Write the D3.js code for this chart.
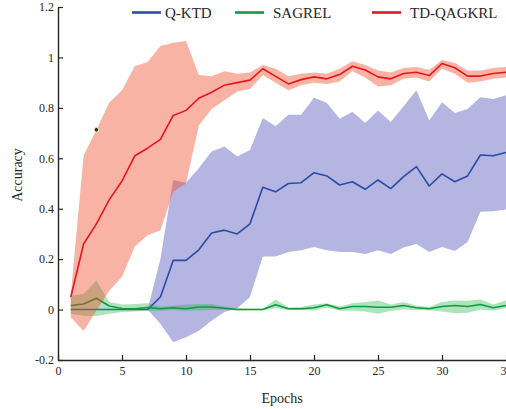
<!DOCTYPE html>
<html>
<head>
<meta charset="utf-8">
<script src="https://cdn.jsdelivr.net/npm/d3@7"></script>
<style>
  html, body { margin: 0; padding: 0; background: #fff; overflow: hidden; }
  svg { display: block; }
  text { font-family: "Liberation Serif", "Times New Roman", serif; fill: #262626; }
</style>
</head>
<body>
<svg id="chart" width="506" height="409"></svg>
<script>
// ---- data ----
const epochs = d3.range(1, 36);
const seriesNames = ["Q-KTD", "SAGREL", "TD-QAGKRL"];
const xTicks = [0, 5, 10, 15, 20, 25, 30, 35];
const yTicks = [-0.2, 0, 0.2, 0.4, 0.6, 0.8, 1.0, 1.2];

const qktdMean  = [0,0,0,0,0,0,0,0.05,0.195,0.195,0.237,0.304,0.315,0.30,0.34,0.485,0.467,0.50,0.503,0.543,0.53,0.494,0.507,0.477,0.514,0.48,0.527,0.567,0.49,0.538,0.507,0.53,0.613,0.61,0.623];
const qktdUpper = [0,0,0,0,0,0,0,0.20,0.514,0.503,0.56,0.627,0.647,0.607,0.633,0.76,0.727,0.773,0.773,0.84,0.82,0.757,0.785,0.74,0.79,0.744,0.806,0.87,0.75,0.822,0.78,0.795,0.842,0.835,0.85];
const qktdLower = [0,0,0,0,0,0,0,-0.056,-0.13,-0.11,-0.084,-0.044,-0.01,0.005,0.05,0.21,0.21,0.228,0.235,0.248,0.235,0.228,0.228,0.22,0.235,0.22,0.246,0.26,0.228,0.248,0.232,0.268,0.388,0.39,0.397];

const sagrelMean  = [0.016,0.022,0.045,0.014,0.004,0.003,0.008,0.003,0.007,0.003,0.01,0.01,0.005,0.0,0.0,0.0,0.019,0.003,0.003,0.007,0.019,0.003,0.012,0.012,0.009,0.009,0.016,0.007,0.003,0.012,0.016,0.012,0.02,0.007,0.016];
const sagrelUpper = [0.056,0.062,0.115,0.03,0.02,0.022,0.025,0.012,0.015,0.02,0.022,0.022,0.012,0.005,0.003,0.003,0.04,0.008,0.01,0.02,0.025,0.012,0.025,0.03,0.036,0.02,0.03,0.015,0.01,0.03,0.036,0.035,0.04,0.02,0.036];
const sagrelLower = [-0.017,-0.025,-0.025,-0.017,-0.01,-0.008,-0.005,-0.005,-0.002,-0.005,-0.004,-0.002,-0.001,-0.004,-0.003,-0.003,0.005,-0.002,-0.002,-0.004,0.008,-0.004,-0.005,-0.008,-0.017,-0.005,0.0,-0.002,-0.003,-0.008,-0.015,-0.013,0.0,-0.004,0.005];

const tdMean  = [0.05,0.26,0.34,0.435,0.51,0.61,0.64,0.675,0.77,0.79,0.838,0.862,0.89,0.90,0.91,0.955,0.925,0.895,0.912,0.923,0.915,0.932,0.965,0.95,0.923,0.915,0.936,0.941,0.928,0.976,0.959,0.926,0.926,0.936,0.941];
const tdUpper = [0.06,0.61,0.713,0.82,0.87,0.965,0.982,1.045,1.058,1.065,0.93,0.925,0.945,0.935,0.94,0.97,0.955,0.925,0.935,0.94,0.935,0.955,0.985,0.97,0.948,0.94,0.958,0.962,0.95,0.99,0.978,0.948,0.948,0.958,0.962];
const tdLower = [-0.03,-0.085,-0.005,0.075,0.13,0.25,0.295,0.315,0.467,0.50,0.73,0.795,0.83,0.865,0.875,0.93,0.90,0.87,0.89,0.90,0.895,0.905,0.945,0.92,0.885,0.89,0.915,0.92,0.905,0.955,0.935,0.9,0.905,0.915,0.92];

const dataTip = [[3, 0.713]];

// ---- layout ----
const svg = d3.select("#chart");
const x = d3.scaleLinear().domain([0, 35]).range([58, 506]);
const y = d3.scaleLinear().domain([-0.2, 1.2]).range([360, 7]);

const series = [
  { name: seriesNames[0], mean: qktdMean,   up: qktdUpper,   lo: qktdLower,   line: "#2c4ba6", fill: "rgb(60,60,180)",  alpha: 0.38 },
  { name: seriesNames[1], mean: sagrelMean, up: sagrelUpper, lo: sagrelLower, line: "#0f9a43", fill: "rgb(30,180,70)",  alpha: 0.36 },
  { name: seriesNames[2], mean: tdMean,     up: tdUpper,     lo: tdLower,     line: "#e8161c", fill: "rgb(240,75,40)",  alpha: 0.42 }
];

const area = d3.area().x((d) => x(d.e)).y0((d) => y(d.lo)).y1((d) => y(d.up));
const line = d3.line().x((d) => x(d.e)).y((d) => y(d.v));

series.forEach((s) => {
  const bandData = epochs.map((e, i) => ({ e, up: s.up[i], lo: s.lo[i] }));
  const lineData = epochs.map((e, i) => ({ e, v: s.mean[i] }));
  svg.append("path").datum(bandData).attr("d", area)
    .attr("fill", s.fill).attr("fill-opacity", s.alpha).attr("stroke", "none");
  svg.append("path").datum(lineData).attr("d", line)
    .attr("fill", "none").attr("stroke", s.line).attr("stroke-width", 1.6)
    .attr("stroke-linejoin", "round");
});

// data tip marker
svg.selectAll("circle.tip").data(dataTip).enter().append("circle")
  .attr("class", "tip")
  .attr("cx", (d) => x(d[0])).attr("cy", (d) => y(d[1])).attr("r", 2.3)
  .attr("fill", "#262626").attr("stroke", "#f3f0c8").attr("stroke-width", 1);

// ---- axes ----
const fmt = (d) => String(+d.toFixed(1));
const yAxis = d3.axisLeft(y).tickValues(yTicks).tickFormat(fmt)
  .tickSizeInner(-5).tickSizeOuter(0).tickPadding(4);
const xAxis = d3.axisBottom(x).tickValues(xTicks).tickFormat(fmt)
  .tickSizeInner(-5).tickSizeOuter(0).tickPadding(6);

const gy = svg.append("g").attr("transform", "translate(58,0)").call(yAxis);
const gx = svg.append("g").attr("transform", "translate(0,360)").call(xAxis);
[gx, gy].forEach((g) => {
  g.select(".domain").attr("stroke", "#262626").attr("stroke-width", 1.4);
  g.selectAll(".tick line").attr("stroke", "#262626").attr("stroke-width", 1.2);
  g.selectAll(".tick text").style("font-family", '"Liberation Serif", "Times New Roman", serif')
    .style("font-size", "12px").attr("fill", "#262626");
});

svg.append("text").attr("x", 282).attr("y", 403).attr("text-anchor", "middle")
  .style("font-size", "14px").text("Epochs");
svg.append("text").attr("transform", "translate(22,175) rotate(-90)").attr("text-anchor", "middle")
  .style("font-size", "14px").text("Accuracy");

// ---- legend ----
const legendX = [132, 235, 372];
const leg = svg.append("g");
series.forEach((s, i) => {
  leg.append("line").attr("x1", legendX[i]).attr("x2", legendX[i] + 29)
    .attr("y1", 12.5).attr("y2", 12.5).attr("stroke", s.line).attr("stroke-width", 2.6);
  leg.append("text").attr("x", legendX[i] + (i === 0 ? 33 : 38)).attr("y", 17.5)
    .style("font-size", "15px").text(s.name);
});
</script>
</body>
</html>
